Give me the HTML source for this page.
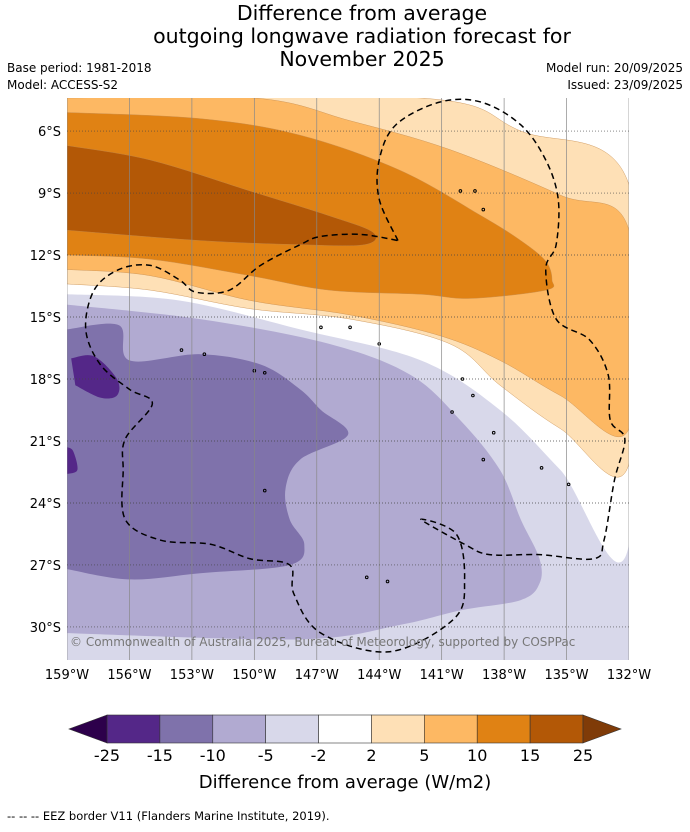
<!DOCTYPE html>
<html><head><meta charset="utf-8"><style>
body{margin:0;background:#fff;font-family:"Liberation Sans","DejaVu Sans",sans-serif}
svg text{font-family:"DejaVu Sans","Liberation Sans",sans-serif}
</style></head><body>
<svg id="c" width="690" height="827" viewBox="0 0 690 827" xmlns="http://www.w3.org/2000/svg">
<text x="362" y="20" font-size="20.5" text-anchor="middle">Difference from average</text>
<text x="362" y="43" font-size="20.5" text-anchor="middle">outgoing longwave radiation forecast for</text>
<text x="362" y="66" font-size="20.5" text-anchor="middle">November 2025</text>
<text x="7" y="72" font-size="12">Base period: 1981-2018</text>
<text x="7" y="89" font-size="12">Model: ACCESS-S2</text>
<text x="683" y="72" font-size="12" text-anchor="end">Model run: 20/09/2025</text>
<text x="683" y="89" font-size="12" text-anchor="end">Issued: 23/09/2025</text>
<defs><clipPath id="mc"><rect x="67" y="98" width="562" height="562"/></clipPath></defs>
<g id="map" clip-path="url(#mc)"></g>
<g id="axes"></g>
<g id="cbar"></g>
<text x="345" y="788" font-size="18" text-anchor="middle">Difference from average (W/m2)</text>
<text x="7" y="820" font-size="11.5">--  --  -- EEZ border V11 (Flanders Marine Institute, 2019).</text>
</svg>
<script>
const lonTicks=[-159,-156,-153,-150,-147,-144,-141,-138,-135,-132];
const latTicks=[-6,-9,-12,-15,-18,-21,-24,-27,-30];
const levels=[-25,-15,-10,-5,-2,2,5,10,15,25];
const levelColors=["#542788","#7f72ab","#b1aad1","#d8d8ea","#ffffff","#fee0b6","#fdb863","#e08214","#b35806"];
const extColors=["#2d004b","#7f3b08"];
const bgColor="#d8d8ea";
const cWhite=[[-159,-4.4],[-132,-4.4],[-132,-26],[-135.3,-22.4],[-138.2,-19.5],[-142,-17.1],[-147.8,-15.6],[-153.6,-14.2],[-159,-13.9]];
const cPale=[[-159,-4.4],[-142,-4.4],[-137.2,-6],[-132,-8.6],[-132,-22.1],[-135.3,-20.4],[-138.2,-18.3],[-140.6,-16.3],[-145.4,-15.1],[-150.2,-14.6],[-155,-13.7],[-159,-13.4]];
const cO5=[[-159,-4.4],[-150,-4.4],[-145.4,-5.5],[-140.6,-6.9],[-135.3,-9.1],[-132,-10.8],[-132,-20.4],[-135.3,-18.8],[-138.2,-17.1],[-141.1,-15.9],[-145.4,-14.9],[-150.2,-14.2],[-155,-13],[-159,-12.7]];
const cO10=[[-159,-5.1],[-152.6,-5.4],[-147.8,-6.2],[-143,-7.9],[-139.1,-10.1],[-137.2,-11.3],[-136,-12.3],[-135.7,-13.2],[-136,-13.7],[-139.6,-14.1],[-142,-13.9],[-146.4,-13.7],[-150.2,-13],[-155,-12.2],[-159,-12]];
const cO15=[[-159,-6.7],[-155,-7.4],[-150.2,-8.9],[-146.4,-10.1],[-144.3,-10.9],[-144.7,-11.5],[-147.8,-11.5],[-152.6,-11.3],[-159,-10.8]];
const cP5=[[-159,-14.4],[-152.6,-15.1],[-146.4,-16.3],[-142.5,-17.8],[-140.1,-20],[-138.2,-22.4],[-137.2,-24.8],[-136.3,-26.7],[-136.3,-27.9],[-137.2,-28.7],[-140.1,-29.2],[-143,-29.9],[-147.8,-30.6],[-159,-30.3]];
const cP10=[[-159,-15.6],[-156.5,-15.4],[-156,-17.1],[-152.6,-16.8],[-149.7,-17.3],[-147.8,-18.5],[-146.8,-19.5],[-145.5,-20.7],[-147.8,-21.9],[-148.5,-23.3],[-148.3,-24.8],[-147.6,-26],[-148.3,-27],[-152.6,-27.4],[-156,-27.7],[-159,-27.2]];
const cP15a=[[-158.8,-17],[-157.7,-16.9],[-156.6,-18],[-156.6,-18.8],[-157.4,-18.9],[-158.6,-18.3]];
const cP15b=[[-159,-21.3],[-158.7,-21.5],[-158.5,-22.4],[-159,-22.6]];
const eez=[[-143.1,-11.3],[-144,-9.3],[-144,-7.4],[-143.2,-5.7],[-141.1,-4.6],[-139.1,-4.6],[-137.2,-5.7],[-136,-7.4],[-135.4,-9.3],[-135.5,-11.5],[-136,-12.7],[-135.5,-15.1],[-133.9,-16.1],[-133,-17.8],[-132.9,-20],[-132.2,-20.9],[-132.7,-22.9],[-133.2,-25.8],[-133.7,-26.7],[-136.3,-26.5],[-138.7,-26.5],[-139.9,-26],[-142,-24.8],[-140.3,-25.5],[-139.9,-27.7],[-140.4,-29.6],[-143.5,-31.2],[-146.8,-30.3],[-148.1,-28.4],[-148.3,-27],[-150.2,-26.7],[-152.1,-26],[-154.5,-25.8],[-156.2,-24.8],[-156.3,-22.4],[-156.2,-20.9],[-154.9,-19.2],[-156,-18.5],[-157.4,-17.3],[-158.1,-15.6],[-157.7,-13.7],[-156.5,-12.7],[-155,-12.5],[-153.6,-13.2],[-152.8,-13.8],[-151.2,-13.7],[-149.7,-12.5],[-147.8,-11.5],[-146.8,-11.1],[-144.9,-11],[-143.1,-11.3]];
const islands=[[-140.1,-8.9],[-139.4,-8.9],[-139,-9.8],[-145.4,-15.5],[-144,-16.3],[-146.8,-15.5],[-152.4,-16.8],[-153.5,-16.6],[-150,-17.6],[-149.5,-17.7],[-140,-18],[-139.5,-18.8],[-140.5,-19.6],[-138.5,-20.6],[-139,-21.9],[-136.2,-22.3],[-134.9,-23.1],[-149.5,-23.4],[-144.6,-27.6],[-143.6,-27.8]];

const NS="http://www.w3.org/2000/svg";
const X=lon=>67+(lon+159)*562/27;
const Y=lat=>98+(-4.4-lat)*562/27.2;
const map=document.getElementById('map'),axes=document.getElementById('axes'),cb=document.getElementById('cbar');
function mk(tag,attrs,parent){const e=document.createElementNS(NS,tag);for(const k in attrs)e.setAttribute(k,attrs[k]);parent.appendChild(e);return e;}
const bg=mk('rect',{x:67,y:98,width:562,height:562,fill:bgColor},map);


function smooth(a,closed){const P=a.map(p=>[X(p[0]),Y(p[1])]);let d='M'+P[0][0]+','+P[0][1];const n=P.length;
 for(let i=0;i<n-1;i++){const p0=P[Math.max(i-1,0)],p1=P[i],p2=P[i+1],p3=P[Math.min(i+2,n-1)];
 d+=' C'+(p1[0]+(p2[0]-p0[0])/6)+','+(p1[1]+(p2[1]-p0[1])/6)+' '+(p2[0]-(p3[0]-p1[0])/6)+','+(p2[1]-(p3[1]-p1[1])/6)+' '+p2[0]+','+p2[1];}
 return d+(closed?'Z':'');}
const layers=[[cWhite,4,'contour-white'],[cPale,5,'contour-2-5'],[cO5,6,'contour-5-10'],[cO10,7,'contour-10-15'],[cO15,8,'contour-15-25'],[cP5,2,'contour-minus5-minus10'],[cP10,1,'contour-minus10-minus15'],[cP15a,0,'contour-minus15-a'],[cP15b,0,'contour-minus15-b']];
layers.forEach(l=>{const e=mk('path',{d:smooth(l[0],true),fill:levelColors[l[1]],stroke:l[1]>4?'#c58a4a':'none','stroke-width':0.4},map);

});
islands.forEach(p=>{const e=mk('circle',{cx:X(p[0]),cy:Y(p[1]),r:1.3,fill:'none',stroke:'#000','stroke-width':1},map);

});
lonTicks.forEach(v=>{const l=mk('line',{x1:X(v),x2:X(v),y1:98,y2:660,stroke:'#888','stroke-width':0.7},map);


const t=mk('text',{x:X(v),y:679,'font-size':13,'text-anchor':'middle'},axes);t.textContent=Math.abs(v)+'°W';

});
latTicks.forEach(v=>{const l=mk('line',{x1:67,x2:629,y1:Y(v),y2:Y(v),stroke:'#444','stroke-width':0.7,'stroke-dasharray':'1,2'},map);


const t=mk('text',{x:61,y:Y(v)+5,'font-size':13,'text-anchor':'end'},axes);t.textContent=Math.abs(v)+'°S';

});
const ez=mk('path',{d:smooth(eez,false),fill:'none',stroke:'#000','stroke-width':1.5,'stroke-dasharray':'6,4'},map);


const cr=mk('text',{x:70,y:646,'font-size':12,fill:'#777'},map);cr.textContent='© Commonwealth of Australia 2025, Bureau of Meteorology, supported by COSPPac';


const cbX0=107,cbX1=583,cbY=715,cbH=28,segW=(cbX1-cbX0)/levelColors.length;
levelColors.forEach((c,i)=>{const r=mk('rect',{x:cbX0+i*segW,y:cbY,width:segW,height:cbH,fill:c,stroke:'#333','stroke-width':0.6},cb);

});
const tl=mk('polygon',{points:`${cbX0},${cbY} 69,${cbY+cbH/2} ${cbX0},${cbY+cbH}`,fill:extColors[0],stroke:'#333','stroke-width':0.6},cb);


const tr=mk('polygon',{points:`${cbX1},${cbY} 621,${cbY+cbH/2} ${cbX1},${cbY+cbH}`,fill:extColors[1],stroke:'#333','stroke-width':0.6},cb);


levels.forEach((v,i)=>{const t=mk('text',{x:cbX0+i*segW,y:761,'font-size':16,'text-anchor':'middle'},cb);t.textContent=v;

});
</script>
</body></html>
